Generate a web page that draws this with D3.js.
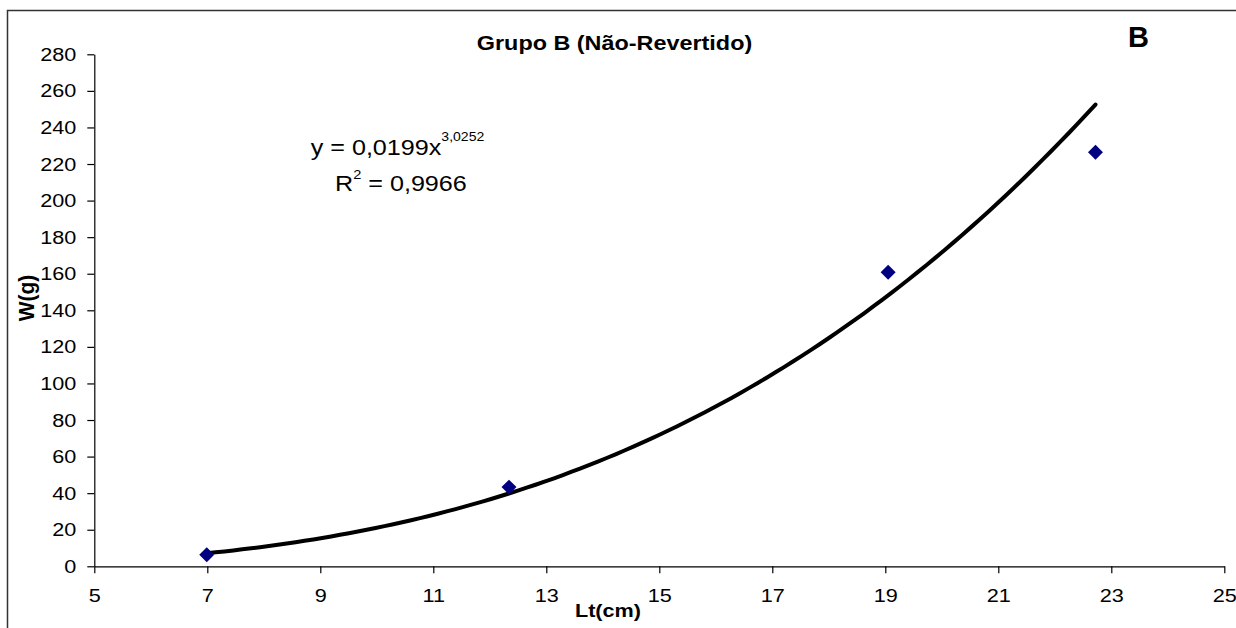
<!DOCTYPE html>
<html>
<head>
<meta charset="utf-8">
<script src="https://cdn.jsdelivr.net/npm/d3@7"></script>
<style>
  body { margin: 0; background: #fff; }
  svg { display: block; font-family: "Liberation Sans", Arial, sans-serif; }
</style>
</head>
<body>
<svg id="chart" width="1236" height="628"></svg>
<script>
// Data
const lengths = [6.99, 12.34, 19.05, 22.72];   // Lt(cm)
const weights = [6.3, 43.3, 160.8, 226.4];    // W(g)
const xTicks = [5, 7, 9, 11, 13, 15, 17, 19, 21, 23, 25];
const yTicks = [0, 20, 40, 60, 80, 100, 120, 140, 160, 180, 200, 220, 240, 260, 280];
// Power trendline shown on the chart: y = a * x^b
const fitA = 0.0199, fitB = 3.0252;
const fitRange = [6.99, 22.72];

const svg = d3.select("#chart"),
    width = +svg.attr("width"),
    height = +svg.attr("height");

const stretch = 1.14; // text in the picture is a bit wide

const x = d3.scaleLinear().domain([5, 25]).range([94.3, 1224.3]);
const y = d3.scaleLinear().domain([0, 280]).range([566.3, 54.3]);

// Outer frame (right and bottom sides fall outside the picture)
svg.append("rect")
    .attr("x", 7.5).attr("y", 10.5)
    .attr("width", 1260).attr("height", 660)
    .attr("fill", "none")
    .attr("stroke", "#333")
    .attr("stroke-width", 1.5);

// Axes
const yAxis = svg.append("g")
    .attr("transform", `translate(${x(5)},0)`)
    .call(d3.axisLeft(y).tickValues(yTicks).tickSize(7).tickSizeOuter(0));

yAxis.selectAll("text")
    .attr("x", -18 / stretch)
    .attr("transform", `scale(${stretch},1)`)
    .style("font-size", "19px")
    .attr("fill", "#000");

const xAxis = svg.append("g")
    .attr("transform", `translate(0,${y(0)})`)
    .call(d3.axisBottom(x).tickValues(xTicks).tickSize(7).tickSizeOuter(0).tickPadding(15));

xAxis.selectAll("text")
    .attr("transform", `scale(${stretch},1)`)
    .style("font-size", "19px")
    .attr("fill", "#000");

svg.selectAll(".domain, .tick line").attr("stroke", "#000").attr("stroke-width", 1.2);

// Trendline
const curveData = d3.range(0, 101).map(i => {
    const lx = fitRange[0] + (fitRange[1] - fitRange[0]) * i / 100;
    return [lx, fitA * Math.pow(lx, fitB)];
});

svg.append("path")
    .datum(curveData)
    .attr("fill", "none")
    .attr("stroke", "#000")
    .attr("stroke-width", 4)
    .attr("stroke-linecap", "round")
    .attr("d", d3.line().x(d => x(d[0])).y(d => y(d[1])));

// Data points (diamonds)
svg.selectAll(".pt")
    .data(lengths.map((l, i) => ({ l, w: weights[i] })))
    .join("path")
    .attr("class", "pt")
    .attr("d", d3.symbol(d3.symbolSquare, 112))
    .attr("transform", d => `translate(${x(d.l)},${y(d.w)}) rotate(45)`)
    .attr("fill", "#000080");

// Title
svg.append("text")
    .attr("transform", "translate(614.5,50) scale(1.17,1)")
    .attr("text-anchor", "middle")
    .style("font-size", "20px")
    .style("font-weight", "bold")
    .text("Grupo B (Não-Revertido)");

// Panel letter
svg.append("text")
    .attr("x", 1128).attr("y", 47)
    .style("font-size", "29px")
    .style("font-weight", "bold")
    .text("B");

// Axis titles
svg.append("text")
    .attr("transform", "translate(608,617) scale(1.17,1)")
    .attr("text-anchor", "middle")
    .style("font-size", "18.5px")
    .style("font-weight", "bold")
    .text("Lt(cm)");

svg.append("text")
    .attr("transform", "translate(34.3,298) rotate(-90) scale(1.05,1.12)")
    .attr("text-anchor", "middle")
    .style("font-size", "20px")
    .style("font-weight", "bold")
    .text("W(g)");

// Equation
const eq1 = svg.append("text")
    .attr("transform", "translate(310.7,155) scale(1.17,1)")
    .style("font-size", "21.5px");
eq1.append("tspan").text("y = 0,0199x");
eq1.append("tspan").attr("dy", -14.5).style("font-size", "12px").text("3,0252");

const eq2 = svg.append("text")
    .attr("transform", "translate(335,190.5) scale(1.17,1)")
    .style("font-size", "21.5px");
eq2.append("tspan").text("R");
eq2.append("tspan").attr("dy", -12).style("font-size", "12.5px").text("2");
eq2.append("tspan").attr("dy", 12).text(" = 0,9966");
</script>
</body>
</html>
